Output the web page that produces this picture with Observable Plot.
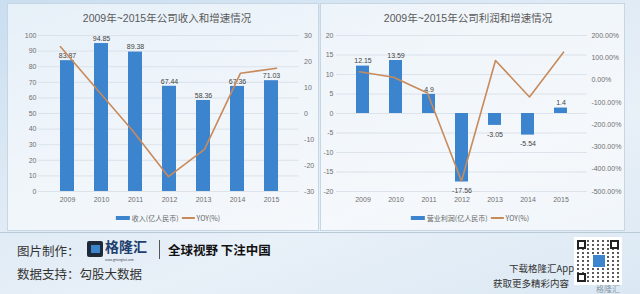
<!DOCTYPE html>
<html><head><meta charset="utf-8">
<script src="https://cdn.jsdelivr.net/npm/d3@7"></script>
<script src="https://cdn.jsdelivr.net/npm/@observablehq/plot@0.6"></script>
<style>
html,body{margin:0;padding:0;}
body{width:640px;height:294px;position:relative;overflow:hidden;
 font-family:"Liberation Sans","Noto Sans CJK SC",sans-serif;
 background:linear-gradient(160deg,#c9def0 0%,#dde9f4 35%,#e8f0f8 65%,#dbe8f3 100%);}
.panel{position:absolute;top:3px;height:228px;background:rgba(255,255,255,0.55);border:1px solid #c6d6e4;box-sizing:border-box;}
.abs{position:absolute;}
.title{position:absolute;top:10px;font-size:10.5px;color:#595959;font-family:"Liberation Sans","Noto Sans CJK SC",sans-serif;white-space:nowrap;transform:translateX(-50%);}
.legend{position:absolute;top:213px;font-size:7px;color:#666;display:flex;align-items:center;white-space:nowrap;transform:translateX(-50%);font-family:"Noto Sans CJK SC",sans-serif;}
.sw{display:inline-block;width:14px;height:4px;background:#3d84cf;margin-right:2px;}
.ln{display:inline-block;width:13px;height:2px;background:#c98a5a;margin:0 2px 0 3px;}
.ft{position:absolute;font-family:"Noto Sans CJK SC",sans-serif;white-space:nowrap;}
</style></head>
<body>
<div class="panel" style="left:7px;width:312px;"></div>
<div class="panel" style="left:320px;width:305px;"></div>
<div class="title" style="left:167px;">2009年~2015年公司收入和增速情况</div>
<div class="title" style="left:468px;">2009年~2015年公司利润和增速情况</div>
<div id="L" class="abs" style="left:0;top:0;width:320px;height:232px;"></div>
<div id="R" class="abs" style="left:320px;top:0;width:305px;height:232px;"></div>
<div class="legend" style="left:168px;"><span class="sw"></span>收入(亿人民币)<span class="ln"></span>YOY(%)</div>
<div class="legend" style="left:470px;"><span class="sw"></span>营业利润(亿人民币)<span class="ln"></span>YOY(%)</div>
<div class="abs" style="left:0;top:232px;width:640px;height:1px;background:#b9c9d6;"></div>
<div class="ft" style="left:17px;top:241px;font-size:12.5px;color:#333;">图片制作：</div>
<div class="abs" style="left:87px;top:241px;width:16px;height:16px;background:#1e2a38;border-radius:2px;"></div>
<div class="abs" style="left:91px;top:245px;width:9px;height:8px;background:#3d84cf;"></div>
<div class="ft" style="left:105px;top:239px;font-size:14px;line-height:14px;font-weight:700;color:#1f3f6e;">格隆汇</div>
<div class="ft" style="left:105px;top:259px;font-size:3px;line-height:3px;color:#445;">www.gelonghui.com</div>
<div class="abs" style="left:159px;top:240px;width:1px;height:19px;background:#555;"></div>
<div class="ft" style="left:168px;top:240px;font-size:12.5px;font-weight:700;color:#111;">全球视野 下注中国</div>
<div class="ft" style="left:17px;top:264px;font-size:12.5px;color:#333;">数据支持：勾股大数据</div>
<div class="ft" style="left:509px;top:261px;font-size:9.5px;color:#333;width:60px;text-align:right;">下载格隆汇App</div>
<div class="ft" style="left:493px;top:276px;font-size:9.5px;color:#333;width:76px;text-align:right;">获取更多精彩内容</div>
<div class="abs" style="left:574px;top:237px;width:48px;height:48px;background:#fff;"></div>
<div class="abs" style="left:577px;top:240px;width:42px;height:42px;background:repeating-linear-gradient(90deg,#333 0 2px,#fff 2px 5px),repeating-linear-gradient(0deg,#333 0 2px,#fff 2px 4px);background-blend-mode:lighten;opacity:0.8;"></div>
<div class="abs" style="left:577px;top:240px;width:9px;height:9px;border:2px solid #222;background:#fff;box-sizing:border-box;"></div>
<div class="abs" style="left:610px;top:240px;width:9px;height:9px;border:2px solid #222;background:#fff;box-sizing:border-box;"></div>
<div class="abs" style="left:577px;top:273px;width:9px;height:9px;border:2px solid #222;background:#fff;box-sizing:border-box;"></div>
<div class="abs" style="left:592px;top:254px;width:12px;height:12px;background:#3d84cf;border:1px solid #fff;"></div>
<div class="ft" style="left:596px;top:283px;font-size:8px;color:#8a9aa8;">格隆汇</div>
<script>
const years = ["2009","2010","2011","2012","2013","2014","2015"];
const revenue = [83.87, 94.85, 89.38, 67.44, 58.36, 67.36, 71.03];
const revenueYoy = [25.7, 9.5, -6.5, -24.3, -13.8, 15.5, 17.4];
const profit = [12.15, 13.59, 4.9, -17.56, -3.05, -5.54, 1.4];
const profitYoy = [37, 13, -58, -453, 88, -76, 125];
const revTicks = [0,10,20,30,40,50,60,70,80,90,100];
const revYoyTicks = [-30,-20,-10,0,10,20,30];
const profTicks = [-20,-15,-10,-5,0,5,10,15,20];
const profYoyTicks = [-500,-400,-300,-200,-100,0,100,200];

const BAR = "#3d84cf", LINE = "#c98a5a", GRID = "#d5dde6", TXT = "#6f6f6f";
const revData = years.map((y,i)=>({year:y, v:revenue[i], yoy:revenueYoy[i]}));
const profData = years.map((y,i)=>({year:y, v:profit[i], yoy:profitYoy[i]}));
const st = {background:"transparent", fontSize:"7px", color:TXT, fontFamily:"'Liberation Sans','Noto Sans CJK SC',sans-serif", overflow:"visible", position:"absolute", left:"0", top:"0"};

function dual(el, data, o) {
  const common = {width:o.w, height:232, marginLeft:o.ml, marginRight:o.mr, marginTop:35, marginBottom:41, style:st};
  const bars = Plot.plot({...common,
    x:{domain:years, padding:0.6, label:null, tickSize:0, tickPadding:6},
    y:{domain:o.yd, ticks:o.yt, label:null, tickSize:0, tickPadding:o.lp, tickFormat:d=>String(d)},
    marks:[
      Plot.ruleY(o.yt,{stroke:GRID, strokeWidth:0.8}),
      Plot.barY(data,{x:"year", y:"v", fill:BAR}),
      Plot.text(data.filter(d=>d.v>=0),{x:"year", y:"v", text:d=>String(d.v), dy:-5, fill:"#444", fontSize:7}),
      Plot.text(data.filter(d=>d.v<0),{x:"year", y:"v", text:d=>String(d.v), dy:9, fill:"#444", fontSize:7})
    ]});
  const line = Plot.plot({...common,
    x:{domain:years, padding:0.6, axis:null},
    y:{domain:o.rd, ticks:o.rt, label:null, axis:"right", tickSize:0, tickPadding:o.rp, tickFormat:o.rf},
    marks:[
      Plot.line(data,{x:"year", y:"yoy", stroke:LINE, strokeWidth:1.6})
    ]});
  el.append(bars); el.append(line);
}
dual(document.getElementById("L"), revData, {w:320, ml:38, mr:21.4, yd:[0,100], yt:revTicks, lp:2,
  rd:[-30,30], rt:revYoyTicks, rp:5, rf:d=>String(d)});
dual(document.getElementById("R"), profData, {w:305, ml:16, mr:38.1, yd:[-20,20], yt:profTicks, lp:3,
  rd:[-500,200], rt:profYoyTicks, rp:4, rf:d=>d.toFixed(2)+"%"});
</script>
</body></html>
